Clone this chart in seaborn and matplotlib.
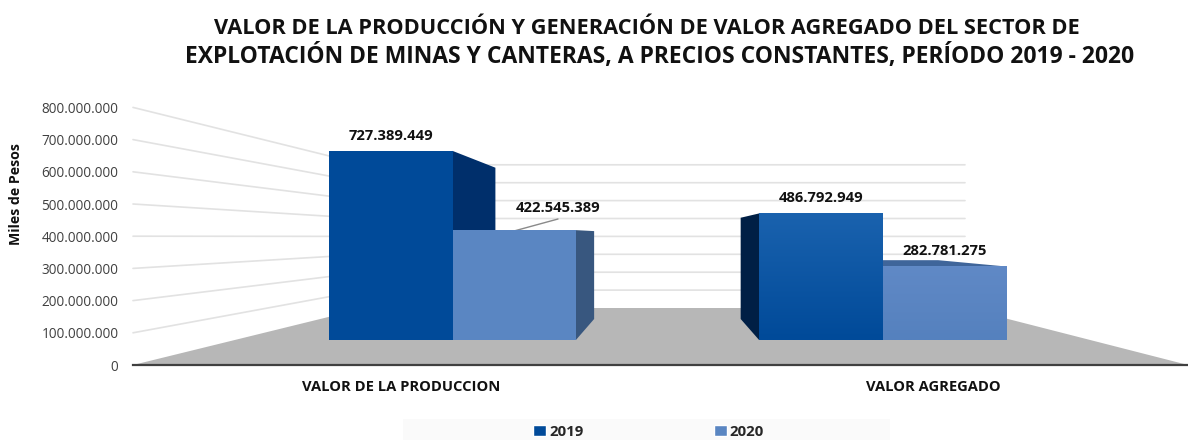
import numpy as np
import pandas as pd
import seaborn as sns
import matplotlib.pyplot as plt
from matplotlib.colors import LinearSegmentedColormap
from matplotlib.patches import Polygon, Rectangle

# datos
categories = ["VALOR DE LA PRODUCCION", "VALOR AGREGADO"]
years = ["2019", "2020"]
values_2019 = [727389449, 486792949]
values_2020 = [422545389, 282781275]
y_ticks = [0, 100000000, 200000000, 300000000, 400000000, 500000000, 600000000, 700000000, 800000000]

title_1 = "VALOR DE LA PRODUCCIÓN Y GENERACIÓN DE VALOR AGREGADO DEL SECTOR DE"
title_2 = "EXPLOTACIÓN DE MINAS Y CANTERAS, A PRECIOS CONSTANTES, PERÍODO 2019 - 2020"

W, H = 1188, 440
BLUE_19, BLUE_20 = "#004a99", "#5a86c2"

sns.set_theme(style="white")
plt.rcParams["font.family"] = ["Open Sans", "DejaVu Sans"]


def fig_rect(x0, y_top, x1, y_bottom):
    # rectangulo en pixeles de la imagen -> fraccion de figura
    return [x0 / W, 1 - y_bottom / H, (x1 - x0) / W, (y_bottom - y_top) / H]


def fmt(v):
    return f"{v:,}".replace(",", ".")


df = pd.DataFrame({
    "categoria": categories * 2,
    "anio": [years[0]] * 2 + [years[1]] * 2,
    "valor": values_2019 + values_2020,
})

fig = plt.figure(figsize=(W / 100, H / 100), dpi=100)

# capa de fondo en pixeles: piso, rejilla y caras laterales
scene = fig.add_axes([0, 0, 1, 1], zorder=1)
scene.set_xlim(0, W)
scene.set_ylim(H, 0)
scene.axis("off")

# eje principal, solo etiquetas y linea base
ax = fig.add_axes(fig_rect(133, 107.4, 1188, 365), zorder=2)
ax.patch.set_visible(False)
ax.set_xlim(-0.5, 1.5)
ax.set_ylim(0, 800000000)
ax.set_yticks(y_ticks)
ax.set_yticklabels([fmt(t) for t in y_ticks], fontsize=9.8, color="#404040")
ax.set_xticks([0.008, 1.017])
ax.set_xticklabels(categories, fontsize=10.6, fontweight="bold", color="#111111")
ax.tick_params(axis="y", length=0, pad=10.5)
ax.tick_params(axis="x", length=0, pad=10.5)
sns.despine(ax=ax, left=True)
ax.spines["bottom"].set_color("#404040")
ax.spines["bottom"].set_linewidth(1.6)
ax.set_ylabel("Miles de Pesos", fontsize=10.2, fontweight="bold", color="#111111")
ax.yaxis.set_label_coords(-110 / 1055, 0.664)

# plano frontal de las barras, mismo rango con otra escala por la perspectiva
front = fig.add_axes(fig_rect(237.5, 132, 1097.5, 340), zorder=3)
sns.barplot(data=df, x="categoria", y="valor", hue="anio", order=categories,
            palette=[BLUE_19, BLUE_20], width=0.574, gap=0, saturation=1,
            legend=False, linewidth=0, ax=front)
front.set_xlim(-0.5, 1.5)
front.set_ylim(0, 800000000)
front.axis("off")

# piso y rejilla de fondo
BACK_L, BACK_R, BACK_FLOOR, BACK_STEP = 365, 965, 308, 17.9
scene.add_patch(Polygon([(133, 365), (BACK_L, BACK_FLOOR), (BACK_R, BACK_FLOOR), (1188, 365)],
                        closed=True, fc="#b7b7b7", ec="none"))
for i, t in enumerate(y_ticks[1:], start=1):
    left_y = H - ax.transData.transform((0, t))[1]
    back_y = BACK_FLOOR - i * BACK_STEP
    scene.plot([133, BACK_L, BACK_R], [left_y, back_y, back_y], color="#e2e2e2", lw=1.2)

# caras 3D: cada esquina del frente se lleva hacia el punto de fuga
VP = np.array([667.0, 235.0])
DEPTH = 0.2


def corners(bar):
    (x0, y0), (x1, y1) = front.transData.transform([(bar.get_x(), 0), (bar.get_x() + bar.get_width(), bar.get_height())])
    return x0, H - y1, x1, H - y0  # izq, arriba, der, abajo


def back(p):
    p = np.array(p, dtype=float)
    return p + DEPTH * (VP - p)


side_colors = ["#002f6b", "#38577f", "#001f45", "#38577f"]
top_colors = ["#002f6b", "#38577f", "#0d4a8c", "#3f659a"]
bars = list(front.containers[0]) + list(front.containers[1])
# orden de dibujo: 2019 prod, 2020 prod, 2019 agreg, 2020 agreg
for bar, side_c, top_c in zip([bars[0], bars[2], bars[1], bars[3]], side_colors, top_colors):
    l, t, r, b = corners(bar)
    edge_x = r if r < VP[0] else l
    scene.add_patch(Polygon([(edge_x, t), back((edge_x, t)), back((edge_x, b)), (edge_x, b)],
                            closed=True, fc=side_c, ec="none", zorder=3))
    if t > VP[1]:
        scene.add_patch(Polygon([(l, t), (r, t), back((r, t)), back((l, t))],
                                closed=True, fc=top_c, ec="none", zorder=3))

# degradado suave en las barras de la derecha
for bar, stops in [(bars[1], ["#1a62ae", "#004a99"]), (bars[3], ["#6089c6", "#5581be"])]:
    cmap = LinearSegmentedColormap.from_list("g", stops)
    im = front.imshow(np.linspace(0, 1, 64).reshape(-1, 1), cmap=cmap, aspect="auto", zorder=3,
                      extent=[bar.get_x(), bar.get_x() + bar.get_width(), 0, bar.get_height()],
                      origin="upper")
    im.set_clip_path(bar)
front.set_xlim(-0.5, 1.5)
front.set_ylim(0, 800000000)

# etiquetas de datos
label_shift = [(0, 15), (0, 15), (44, 22), (0, 15)]
for bar, (dx, dy) in zip(bars, label_shift):
    front.annotate(fmt(int(bar.get_height())),
                   (bar.get_x() + bar.get_width() / 2, bar.get_height()),
                   xytext=(dx * 0.72, dy * 0.72), textcoords="offset points",
                   ha="center", va="center", fontsize=10.6, fontweight="bold",
                   color="#111111", zorder=6)
scene.plot([514, 558], [231, 219], color="#8a8a8a", lw=1, zorder=4)

# titulo, cada linea va centrada aparte como en el original
fig.text(647 / W, 1 - 28 / H, title_1, ha="center", va="center", fontsize=15.7,
         fontweight="bold", color="#111111")
fig.text(660 / W, 1 - 57 / H, title_2, ha="center", va="center", fontsize=16.5,
         fontweight="bold", color="#111111")

# leyenda
scene.add_patch(Rectangle((403, 419), 487, 21, fc="#fafafa", ec="none"))
handles = [Rectangle((0, 0), 1, 1, fc=BLUE_19), Rectangle((0, 0), 1, 1, fc=BLUE_20)]
fig.legend(handles, years, loc="center", bbox_to_anchor=(648.5 / W, 1 - 431.5 / H), ncol=2,
           frameon=False, handlelength=0.85, handleheight=0.8,
           handletextpad=0.2, columnspacing=8.7, prop={"weight": "bold", "size": 10.8})

fig.savefig("out.png", dpi=100)
